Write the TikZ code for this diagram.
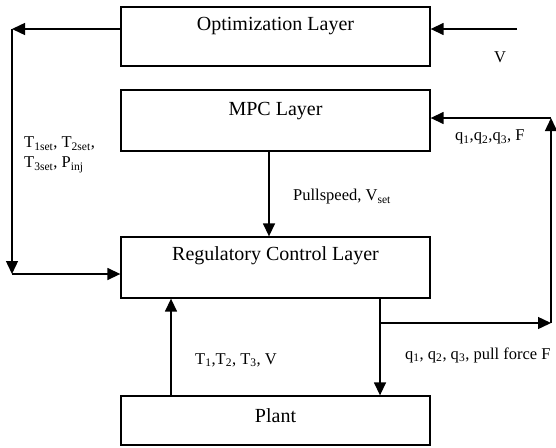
\documentclass[tikz,border=0pt]{standalone}
\usepackage{fontspec}
\setmainfont{Liberation Serif}
\usetikzlibrary{arrows.meta}
\begin{document}
\begin{tikzpicture}[x=1pt,y=-1pt,
  box/.style={draw, line width=1.3pt, minimum width=309pt, inner sep=0pt},
  main/.style={font=\fontsize{20}{24}\selectfont, inner sep=0pt},
  lab/.style={font=\fontsize{16.5}{19}\selectfont, inner sep=0pt, align=left},
  conn/.style={line width=1.4pt, -{Triangle[length=13pt,width=12pt]}},
  plain/.style={line width=1.4pt}]
\useasboundingbox (0,0) rectangle (556,447);
% boxes
\node[box, minimum height=59pt] (opt) at (275.5,36.5) {};
\node[box, minimum height=61pt] (mpc) at (275.5,120.5) {};
\node[box, minimum height=61pt] (reg) at (275.5,267.5) {};
\node[box, minimum height=49pt] (plant) at (275.5,420.5) {};
\node[main] (optt) at (275.5,26) {Optimization Layer};
\node[main] (mpct) at (275.5,111) {MPC Layer};
\node[main] (regt) at (275.5,256) {Regulatory Control Layer};
\node[main] (plantt) at (275.5,416) {Plant};
% coordinates
\coordinate (L1) at (12,29);
\coordinate (L2) at (12,274);
\coordinate (Vin) at (517,29);
\coordinate (X) at (269,0);
\coordinate (P) at (171,0);
\coordinate (B) at (380,323);
\coordinate (R1) at (551,118);
\coordinate (R2) at (551,323);
% connectors
\draw[conn] (opt.west|-L1) -- (L1);
\draw[conn] (L1) -- (L2);
\draw[conn] (L2) -- (reg.west|-L2);
\draw[conn] (Vin) -- (opt.east|-Vin);
\draw[conn] (mpc.south-|X) -- (reg.north-|X);
\draw[conn] (plant.north-|P) -- (reg.south-|P);
\draw[conn] (reg.south-|B) -- (plant.north-|B);
\draw[conn] (B) -- (R2);
\draw[conn] (R2) -- (R1);
\draw[conn] (R1) -- (mpc.east|-R1);
% labels
\node[lab] (lv) at (500,57) {V};
\node[lab, anchor=west] (lt) at (24,155) {T\textsubscript{1set}, T\textsubscript{2set},\\[1pt] T\textsubscript{3set}, P\textsubscript{inj}};
\node[lab, anchor=west] (lq) at (455,137) {q\textsubscript{1},q\textsubscript{2},q\textsubscript{3}, F};
\node[lab, anchor=west] (lp) at (293,197) {Pullspeed, V\textsubscript{set}};
\node[lab, anchor=west] (lT) at (195,360) {T\textsubscript{1},T\textsubscript{2}, T\textsubscript{3}, V};
\node[lab, anchor=west] (lf) at (405,355) {q\textsubscript{1}, q\textsubscript{2}, q\textsubscript{3}, pull force F};
\end{tikzpicture}
\end{document}
